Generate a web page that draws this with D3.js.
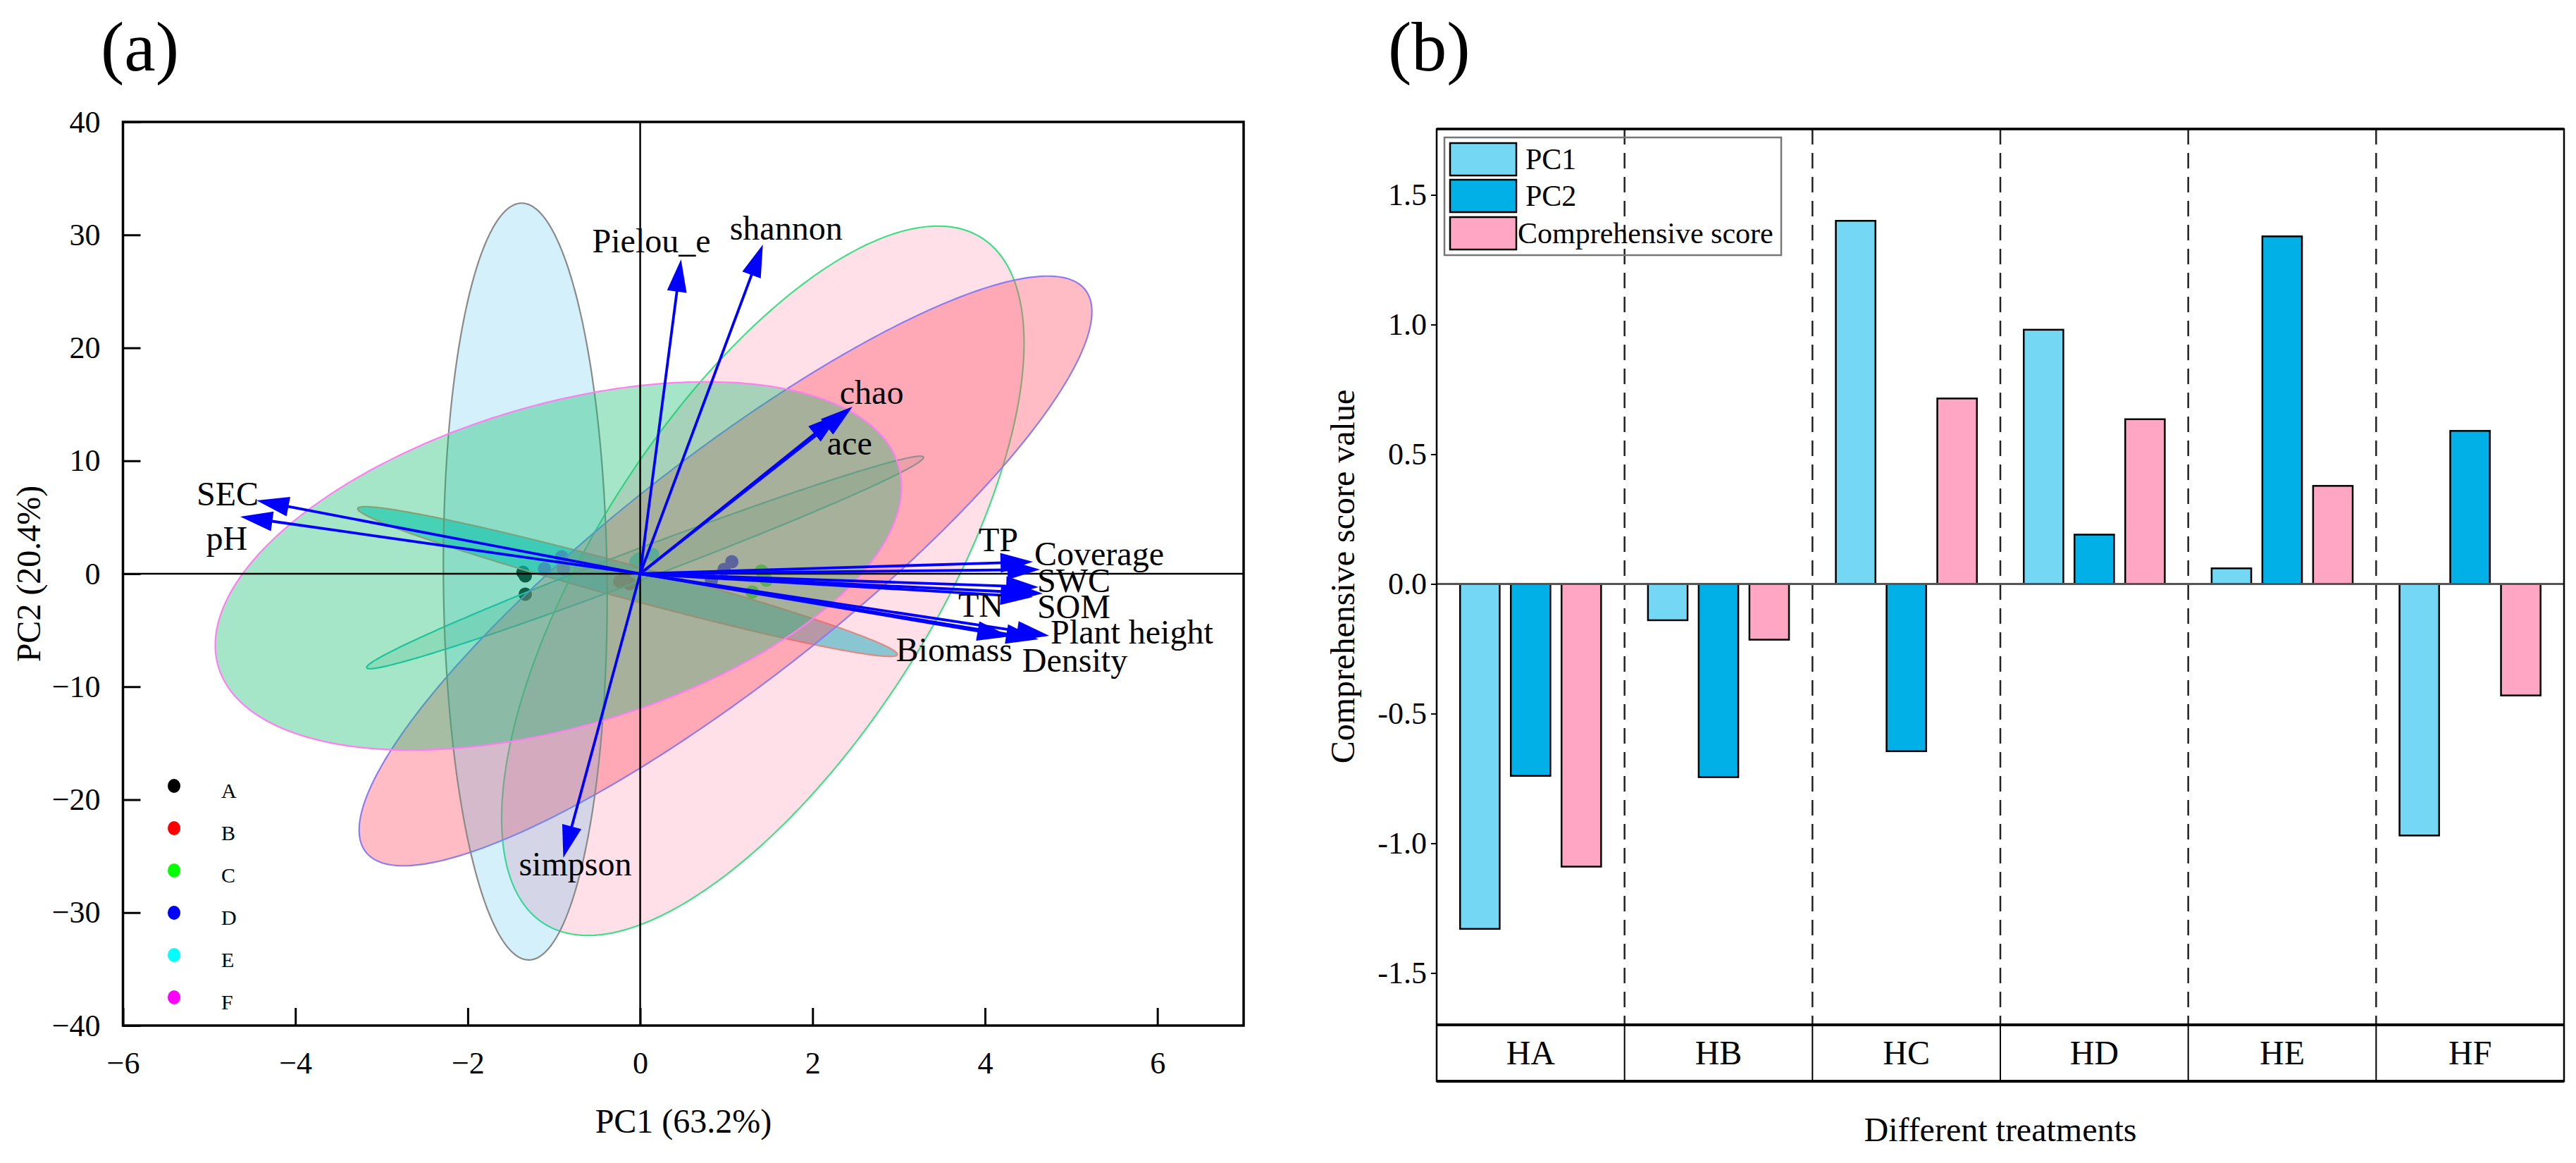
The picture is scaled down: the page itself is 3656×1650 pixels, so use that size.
<!DOCTYPE html>
<html><head><meta charset="utf-8">
<script src="https://cdn.jsdelivr.net/npm/d3@7"></script>
<style>
body{margin:0;background:#fff;}
text{font-family:"Liberation Serif","Times New Roman",serif;fill:#000;}
</style></head><body>
<svg id="chart" width="3656" height="1650"></svg>
<script>
// ================= Panel (a) data =================
const groups = ["A","B","C","D","E","F"];
const groupColors = ["#000000","#ff0000","#00ff00","#0000ff","#00ffff","#ff00ff"];

const sampleGroup = ["A","A","A","B","B","B","C","C","C","D","D","D","E","E","E","F","F","F"];
const samplePC1 = [-1.333,-1.333,-1.36,-0.237,-0.123,-0.18,1.407,1.464,1.30,1.063,0.826,0.973,-0.05,0.147,-0.016,-1.11,-0.89,-0.91];
const samplePC2 = [-0.19,-1.81,0.12,-0.69,-0.87,-0.37,0.25,-0.56,-1.62,1.06,-0.56,0.37,1.06,1.68,1.31,0.44,0.44,1.5];

// confidence ellipses (draw order): centre, half-extent along PC1 / PC2, correlation
const ellipseGroups = ["B","A","C","D","E","F"];
const ellipseCX = [-0.147, 0.057, 1.423, 0.99, -1.333, -0.949];
const ellipseCY = [-0.69, 1.0, -0.62, 0.25, -0.69, 0.69];
const ellipseSX = [3.13, 3.23, 3.03, 4.25, 0.95, 3.98];
const ellipseSY = [6.63, 9.41, 31.4, 26.1, 33.5, 16.3];
const ellipseR  = [-0.972, 0.988, 0.67, 0.879, -0.043, 0.43];

const loadingNames = ["SEC","pH","Pielou_e","shannon","chao","ace","TP","Coverage","SWC","SOM","TN","Plant height","Density","Biomass","simpson"];
const loadingPC1 = [-4.45,-4.64,0.474,1.423,2.462,2.315,4.556,4.638,4.622,4.67,4.556,4.745,4.62,4.286,-0.892];
const loadingPC2 = [6.49,5.05,27.83,29.14,14.79,14.17,1.06,0.37,-1.19,-1.75,-2.06,-5.49,-5.80,-5.55,-25.15];

const xTicksA = [-6,-4,-2,0,2,4,6];
const yTicksA = [-40,-30,-20,-10,0,10,20,30,40];

// ================= Panel (b) data =================
const treatments = ["HA","HB","HC","HD","HE","HF"];
const seriesNames = ["PC1","PC2","Comprehensive score"];
const pc1Scores  = [-1.33,-0.14,1.40,0.98,0.06,-0.97];
const pc2Scores  = [-0.74,-0.745,-0.645,0.19,1.34,0.59];
const compScores = [-1.09,-0.215,0.715,0.635,0.378,-0.43];
const yTicksB = [-1.5,-1.0,-0.5,0.0,0.5,1.0,1.5];

// ================= styles / layout =================
const ellipseStyle = {
  A:{stroke:"#1fc8b4", fill:"rgba(60,170,140,0.2)"},
  B:{stroke:"#d4907a", fill:"rgba(0,200,205,0.6)"},
  C:{stroke:"#44dd88", fill:"rgba(255,120,160,0.24)"},
  D:{stroke:"#8c7cf0", fill:"rgba(255,80,100,0.38)"},
  E:{stroke:"#8a8a8a", fill:"rgba(40,180,230,0.2)"},
  F:{stroke:"#ff7ef0", fill:"rgba(20,190,110,0.38)"}
};
const labelLayout = {
  "SEC":[3,7,"end"], "pH":[-19,47,"middle"], "Pielou_e":[-42,-10,"middle"], "shannon":[33,-7,"middle"],
  "chao":[-18,-4,"start"], "ace":[-18,58,"start"], "TP":[-77,-15,"start"], "Coverage":[-8,-6,"start"],
  "SWC":[-2,7,"start"], "SOM":[-8,35,"start"], "TN":[-106,28,"start"], "Plant height":[2,11,"start"],
  "Density":[-23,46,"start"], "Biomass":[4,35,"end"], "simpson":[17,25,"middle"]
};
const seriesColors = ["#74d7f3","#00b0e6","#ffa6c4"];

const svg = d3.select("#chart");
svg.append("rect").attr("width",3656).attr("height",1650).attr("fill","#fff");

// ================= Panel (a) =================
const xA = d3.scaleLinear().domain([-6,7]).range([174.5,1765]);
const yA = d3.scaleLinear().domain([-40,40]).range([1455,173]);
const gA = svg.append("g");

// sample points (under ellipses)
gA.selectAll("circle.pt").data(d3.range(samplePC1.length)).join("circle")
  .attr("class","pt")
  .attr("cx", i=>xA(samplePC1[i])).attr("cy", i=>yA(samplePC2[i])).attr("r",9.5)
  .attr("fill", i=>groupColors[groups.indexOf(sampleGroup[i])]);

// ellipses
function ellipsePoints(cx,cy,sx,sy,r){
  const q = Math.sqrt(1-r*r);
  return d3.range(0,360,1).map(a=>{const t=a*Math.PI/180;
    return [cx+sx*Math.cos(t), cy+sy*(r*Math.cos(t)+q*Math.sin(t))];});
}
const eLine = d3.line().x(d=>xA(d[0])).y(d=>yA(d[1])).curve(d3.curveLinearClosed);
gA.selectAll("path.ell").data(d3.range(ellipseGroups.length)).join("path")
  .attr("class","ell")
  .attr("d", i=>eLine(ellipsePoints(ellipseCX[i],ellipseCY[i],ellipseSX[i],ellipseSY[i],ellipseR[i])))
  .attr("fill", i=>ellipseStyle[ellipseGroups[i]].fill)
  .attr("stroke", i=>ellipseStyle[ellipseGroups[i]].stroke)
  .attr("stroke-width",2.2);

// zero lines
gA.append("line").attr("x1",xA(0)).attr("x2",xA(0)).attr("y1",yA(40)).attr("y2",yA(-40))
  .attr("stroke","#000").attr("stroke-width",2.5);
gA.append("line").attr("x1",xA(-6)).attr("x2",xA(7)).attr("y1",yA(0)).attr("y2",yA(0))
  .attr("stroke","#000").attr("stroke-width",2.5);

// axes
const axB = gA.append("g").attr("transform",`translate(0,${yA(-40)})`)
  .call(d3.axisBottom(xA).tickValues(xTicksA).tickFormat(d3.format("d")).tickSize(-25).tickPadding(37).tickSizeOuter(0));
const axL = gA.append("g").attr("transform",`translate(${xA(-6)},0)`)
  .call(d3.axisLeft(yA).tickValues(yTicksA).tickFormat(d3.format("d")).tickSize(-25).tickPadding(32).tickSizeOuter(0));
[axB,axL].forEach(a=>{
  a.select(".domain").remove();
  a.selectAll(".tick line").attr("stroke","#000").attr("stroke-width",3);
  a.selectAll(".tick text").attr("font-size",44).attr("font-family","Liberation Serif").attr("fill","#000");
});
// frame
gA.append("rect").attr("x",xA(-6)).attr("y",yA(40)).attr("width",xA(7)-xA(-6)).attr("height",yA(-40)-yA(40))
  .attr("fill","none").attr("stroke","#000").attr("stroke-width",3.5);

// loading arrows
const ox = xA(0), oy = yA(0), headLen = 46, headHW = 14;
loadingNames.forEach((name,i)=>{
  const tx = xA(loadingPC1[i]), ty = yA(loadingPC2[i]);
  const dx = tx-ox, dy = ty-oy, L = Math.hypot(dx,dy), ux = dx/L, uy = dy/L;
  const bx = tx-ux*headLen, by = ty-uy*headLen;
  gA.append("line").attr("x1",ox).attr("y1",oy).attr("x2",bx+ux*4).attr("y2",by+uy*4)
    .attr("stroke","#0000ff").attr("stroke-width",3.8);
  gA.append("path").attr("d",`M${tx},${ty}L${bx-uy*headHW},${by+ux*headHW}L${bx+uy*headHW},${by-ux*headHW}Z`)
    .attr("fill","#0000ff");
});
loadingNames.forEach((name,i)=>{
  const tx = xA(loadingPC1[i]), ty = yA(loadingPC2[i]);
  const lay = labelLayout[name];
  gA.append("text").attr("x",tx+lay[0]).attr("y",ty+lay[1]).attr("text-anchor",lay[2])
    .attr("font-size",48).text(name);
});

// legend (a)
groups.forEach((g,i)=>{
  gA.append("ellipse").attr("cx",247).attr("cy",1115+60*i).attr("rx",9).attr("ry",10).attr("fill",groupColors[i]);
  gA.append("text").attr("x",314).attr("y",1132+60*i).attr("font-size",30).text(g);
});

// titles (a)
gA.append("text").attr("x",970).attr("y",1607).attr("text-anchor","middle").attr("font-size",48).text("PC1 (63.2%)");
gA.append("text").attr("transform","translate(57,814) rotate(-90)").attr("text-anchor","middle").attr("font-size",48).text("PC2 (20.4%)");
svg.append("text").attr("x",143).attr("y",100).attr("font-size",100).text("(a)");

// ================= Panel (b) =================
const x0 = d3.scaleBand().domain(treatments).range([2039,3639]).padding(0);
const x1 = d3.scaleBand().domain(seriesNames).range([25.3,241.3]).paddingInner(0.22).paddingOuter(0.11);
const yB = d3.scaleLinear().domain([-1.7,1.754]).range([1454,183]);
const gB = svg.append("g");
const seriesValues = [pc1Scores, pc2Scores, compScores];

// dashed separators
treatments.slice(1).forEach(t=>{
  gB.append("line").attr("x1",x0(t)).attr("x2",x0(t)).attr("y1",yB(1.754)).attr("y2",yB(-1.7))
    .attr("stroke","#222").attr("stroke-width",2.5).attr("stroke-dasharray","22,12");
});

// bars
const barData = [];
treatments.forEach((t,ti)=>seriesNames.forEach((s,si)=>barData.push({t, s, si, v:seriesValues[si][ti]})));
gB.selectAll("rect.bar").data(barData).join("rect").attr("class","bar")
  .attr("x", d=>x0(d.t)+x1(d.s)).attr("width", x1.bandwidth())
  .attr("y", d=>yB(Math.max(0,d.v))).attr("height", d=>Math.abs(yB(d.v)-yB(0)))
  .attr("fill", d=>seriesColors[d.si]).attr("stroke","#000").attr("stroke-width",2.5);

// zero line
gB.append("line").attr("x1",2039).attr("x2",3639).attr("y1",yB(0)).attr("y2",yB(0))
  .attr("stroke","#555").attr("stroke-width",3);

// y axis
const axBL = gB.append("g").attr("transform","translate(2039,0)")
  .call(d3.axisLeft(yB).tickValues(yTicksB).tickFormat(d=>d.toFixed(1)).tickSize(8).tickPadding(6).tickSizeOuter(0));
axBL.select(".domain").remove();
axBL.selectAll(".tick line").attr("stroke","#000").attr("stroke-width",2);
axBL.selectAll(".tick text").attr("font-size",44).attr("font-family","Liberation Serif").attr("fill","#000");

// frame + category table
gB.append("rect").attr("x",2039).attr("y",183).attr("width",1600).attr("height",1534-183)
  .attr("fill","none").attr("stroke","#000").attr("stroke-width",2.5);
gB.append("line").attr("x1",2039).attr("x2",3639).attr("y1",183).attr("y2",183).attr("stroke","#000").attr("stroke-width",3.5);
gB.append("line").attr("x1",2039).attr("x2",3639).attr("y1",1454).attr("y2",1454).attr("stroke","#000").attr("stroke-width",4);
gB.append("line").attr("x1",2039).attr("x2",3639).attr("y1",1534).attr("y2",1534).attr("stroke","#000").attr("stroke-width",4);
treatments.slice(1).forEach(t=>{
  gB.append("line").attr("x1",x0(t)).attr("x2",x0(t)).attr("y1",1454).attr("y2",1534).attr("stroke","#000").attr("stroke-width",2);
});
treatments.forEach(t=>{
  gB.append("text").attr("x",x0(t)+x0.bandwidth()/2).attr("y",1510).attr("text-anchor","middle").attr("font-size",48).text(t);
});

// legend (b)
gB.append("rect").attr("x",2050).attr("y",195).attr("width",478).attr("height",167)
  .attr("fill","none").attr("stroke","#777").attr("stroke-width",2.5);
const legY = [203,255,308], legTX = [2165,2165,2154], legTY = [240,292,345];
seriesNames.forEach((s,i)=>{
  gB.append("rect").attr("x",2058).attr("y",legY[i]).attr("width",94).attr("height",46)
    .attr("fill",seriesColors[i]).attr("stroke","#000").attr("stroke-width",2.5);
  gB.append("text").attr("x",legTX[i]).attr("y",legTY[i]).attr("font-size",42).text(s);
});

// titles (b)
gB.append("text").attr("x",2839).attr("y",1619).attr("text-anchor","middle").attr("font-size",48).text("Different treatments");
gB.append("text").attr("transform","translate(1922,818) rotate(-90)").attr("text-anchor","middle").attr("font-size",48).text("Comprehensive score value");
svg.append("text").attr("x",1970).attr("y",100).attr("font-size",100).text("(b)");
</script>
</body></html>
